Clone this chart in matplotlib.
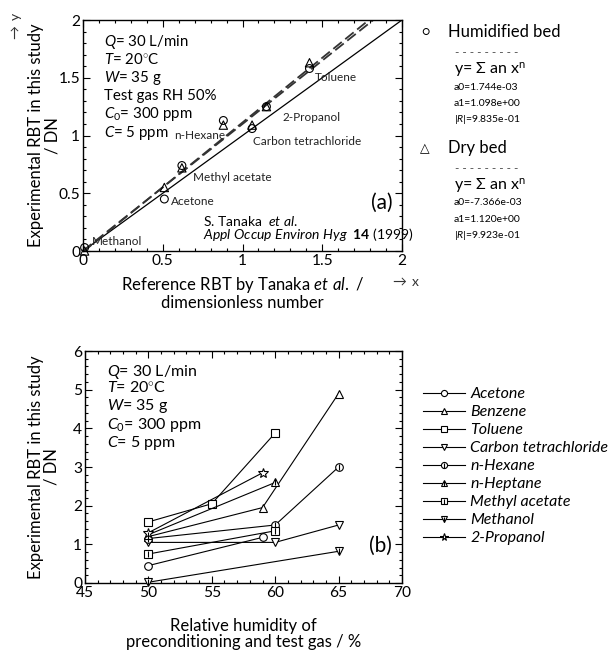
import numpy as np
import matplotlib
matplotlib.use("Agg")
import matplotlib.pyplot as plt
from matplotlib.ticker import MultipleLocator
from matplotlib.legend_handler import HandlerTuple

plt.rcParams['font.family'] = ['Lato', 'DejaVu Sans']
plt.rcParams['mathtext.fontset'] = 'custom'
plt.rcParams['mathtext.rm'] = 'Lato'
plt.rcParams['mathtext.it'] = 'Lato:italic'
plt.rcParams['mathtext.bf'] = 'Lato:bold'

# ---- panel (a): RBT comparison ----
compounds_a = ['Methanol', 'Acetone', 'Methyl acetate', 'n-Hexane',
               'Carbon tetrachloride', '2-Propanol', 'Toluene']
ref_rbt = [0.01, 0.51, 0.62, 0.88, 1.06, 1.15, 1.42]
humid_rbt = [0.03, 0.45, 0.74, 1.13, 1.06, 1.25, 1.58]
dry_rbt = [0.00, 0.55, 0.72, 1.09, 1.09, 1.25, 1.63]
fit_humid = [1.744e-03, 1.098e+00]
fit_dry = [-7.366e-03, 1.120e+00]
label_pos = [(0.055, 0.08), (0.55, 0.425), (0.69, 0.64), (0.57, 1.0),
             (1.066, 0.95), (1.25, 1.16), (1.455, 1.50)]

# ---- panel (b): RBT vs humidity ----
series_b = ['Acetone', 'Benzene', 'Toluene', 'Carbon tetrachloride', 'n-Hexane',
            'n-Heptane', 'Methyl acetate', 'Methanol', '2-Propanol']
rh_b = {
    'Acetone': [50, 59],
    'Benzene': [50, 59, 65],
    'Toluene': [50, 55, 60],
    'Carbon tetrachloride': [50, 60, 65],
    'n-Hexane': [50, 60, 65],
    'n-Heptane': [50, 60],
    'Methyl acetate': [50, 60],
    'Methanol': [50, 65],
    '2-Propanol': [50, 59],
}
rbt_b = {
    'Acetone': [0.45, 1.18],
    'Benzene': [1.2, 1.95, 4.9],
    'Toluene': [1.58, 2.05, 3.88],
    'Carbon tetrachloride': [1.05, 1.05, 1.5],
    'n-Hexane': [1.15, 1.5, 3.0],
    'n-Heptane': [1.25, 2.6],
    'Methyl acetate': [0.75, 1.35],
    'Methanol': [0.02, 0.82],
    '2-Propanol': [1.3, 2.85],
}
markers_b = {'Acetone': 'o', 'Benzene': '^', 'Toluene': 's',
             'Carbon tetrachloride': 'v', 'n-Hexane': 'o', 'n-Heptane': '^',
             'Methyl acetate': 's', 'Methanol': 'v', '2-Propanol': '*'}
barred = ['n-Hexane', 'n-Heptane', 'Methyl acetate', 'Methanol']

fig = plt.figure(figsize=(6.16, 6.51), dpi=100)
W, H = 616, 651
axa = fig.add_axes([83 / W, 1 - 251 / H, 319 / W, 231 / H])
axb = fig.add_axes([85 / W, 1 - 583 / H, 317 / W, 232 / H])

for ax in (axa, axb):
    ax.tick_params(which='both', direction='in', top=True, right=True,
                   labelsize=11.2, width=0.8)
    ax.tick_params(which='major', length=5)
    ax.tick_params(which='minor', length=2.5)
    ax.tick_params(axis='x', pad=2)
    ax.tick_params(axis='y', pad=2)
    for s in ax.spines.values():
        s.set_linewidth(1.0)

# panel (a)
xx = np.array([0, 2])
axa.plot(xx, xx, color='black', lw=0.9)
for p in (fit_humid, fit_dry):
    axa.plot(xx, p[0] + p[1] * xx, color='#333333', lw=1.3, ls=(0, (6, 2.5)))
axa.scatter(ref_rbt, humid_rbt, marker='o', s=32, facecolors='none',
            edgecolors='black', linewidths=0.8, zorder=3, clip_on=False)
axa.scatter(ref_rbt, dry_rbt, marker='^', s=36, facecolors='none',
            edgecolors='black', linewidths=0.8, zorder=3, clip_on=False)
for name, (tx, ty) in zip(compounds_a, label_pos):
    axa.text(tx, ty, name, fontsize=8.5, color='#222222', va='center')
axa.set_xlim(0, 2)
axa.set_ylim(0, 2)
axa.xaxis.set_major_locator(MultipleLocator(0.5))
axa.xaxis.set_minor_locator(MultipleLocator(0.1))
axa.yaxis.set_major_locator(MultipleLocator(0.5))
axa.yaxis.set_minor_locator(MultipleLocator(0.1))
axa.xaxis.set_major_formatter(plt.FuncFormatter(lambda v, p: f'{v:g}'))
axa.yaxis.set_major_formatter(plt.FuncFormatter(lambda v, p: f'{v:g}'))
axa.set_xlabel('Reference RBT by Tanaka $\\it{et\\ al.}$ /\ndimensionless number',
               fontsize=12, linespacing=1.0, labelpad=5)
axa.set_ylabel('Experimental RBT in this study\n/ DN', fontsize=12,
               linespacing=1.0)
axa.yaxis.set_label_coords(-0.072, 0.5)
cond_a = ['$\\it{Q}$= 30 L/min', '$\\it{T}$= 20$^{\\circ}$C', '$\\it{W}$= 35 g',
          'Test gas RH 50%', '$\\it{C}_{\\rm 0}$= 300 ppm', '$\\it{C}$= 5 ppm']
axa.text(0.13, 1.89, '\n'.join(cond_a), fontsize=10.8, va='top', linespacing=1.14)
axa.text(1.94, 0.42, '(a)', fontsize=15, ha='right', va='center')
axa.text(0.75, 0.26, 'S. Tanaka  $\\it{et\\ al.}$', fontsize=10, va='center')
axa.text(0.75, 0.14, '$\\it{Appl\\ Occup\\ Environ\\ Hyg}$  $\\bf{14}$ (1999)',
         fontsize=10, va='center')
fig.text(16 / W, 1 - 27 / H, '$\\rightarrow$ y', rotation=90, fontsize=10,
         ha='center', va='center', color='#333333')
fig.text(390 / W, 1 - 282 / H, '$\\rightarrow$ x', fontsize=10,
         ha='left', va='center', color='#333333')

# legend text for panel (a)
def fit_block(y0, marker, name, p, r):
    fig.text(425 / W, 1 - y0 / H, marker, fontsize=9, ha='center', va='center')
    fig.text(448 / W, 1 - y0 / H, name, fontsize=12, va='center')
    fig.text(455 / W, 1 - (y0 + 21) / H, '- - - - - - - - -', fontsize=8.5,
             va='center', color='#444444')
    fig.text(454 / W, 1 - (y0 + 38) / H, 'y= \u03a3 an x$^{\\rm n}$', fontsize=11.5,
             va='center')
    fig.text(454 / W, 1 - (y0 + 55) / H, f'a0={p[0]:.3e}', fontsize=7.5, va='center')
    fig.text(454 / W, 1 - (y0 + 71) / H, f'a1={p[1]:.3e}', fontsize=7.5, va='center')
    fig.text(454 / W, 1 - (y0 + 87) / H, '|$\\it{R}$|=' + f'{r:.3e}', fontsize=7.5,
             va='center')

fit_block(32, '\u25cb', 'Humidified bed', fit_humid, 9.835e-01)
fit_block(148, '\u25b3', 'Dry bed', fit_dry, 9.923e-01)

# panel (b)
handles = []
for name in series_b:
    ms = 7 if markers_b[name] == '*' else 5.5
    ln, = axb.plot(rh_b[name], rbt_b[name], color='black', lw=0.8,
                   marker=markers_b[name], ms=ms, mfc='white', mec='black',
                   mew=0.8, clip_on=False, zorder=3)
    if name in barred:
        bar, = axb.plot(rh_b[name], rbt_b[name], ls='none', marker='|', ms=4.5,
                        mec='black', mew=0.8, clip_on=False, zorder=4)
        handles.append((ln, bar))
    else:
        handles.append(ln)
axb.set_xlim(45, 70)
axb.set_ylim(0, 6)
axb.xaxis.set_major_locator(MultipleLocator(5))
axb.xaxis.set_minor_locator(MultipleLocator(1))
axb.yaxis.set_major_locator(MultipleLocator(1))
axb.yaxis.set_minor_locator(MultipleLocator(0.2))
axb.set_xlabel('Relative humidity of\npreconditioning and test gas / %',
               fontsize=12, linespacing=1.0, labelpad=13)
axb.set_ylabel('Experimental RBT in this study\n/ DN', fontsize=12,
               linespacing=1.0)
axb.yaxis.set_label_coords(-0.079, 0.5)
cond_b = ['$\\it{Q}$= 30 L/min', '$\\it{T}$= 20$^{\\circ}$C', '$\\it{W}$= 35 g',
          '$\\it{C}_{\\rm 0}$= 300 ppm', '$\\it{C}$= 5 ppm']
axb.text(46.7, 5.7, '\n'.join(cond_b), fontsize=11.5, va='top', linespacing=1.05)
axb.text(69.2, 0.95, '(b)', fontsize=15, ha='right', va='center')
axb.legend(handles, series_b, handler_map={tuple: HandlerTuple(ndivide=1)},
           loc='upper left', bbox_to_anchor=(423 / W, 1 - 387 / H),
           bbox_transform=fig.transFigure, frameon=False,
           prop={'style': 'italic', 'size': 11.5}, handlelength=2.6,
           handletextpad=0.35, labelspacing=0.24, markerscale=0.8,
           borderaxespad=0, borderpad=0)

fig.savefig('out.png', dpi=100)
